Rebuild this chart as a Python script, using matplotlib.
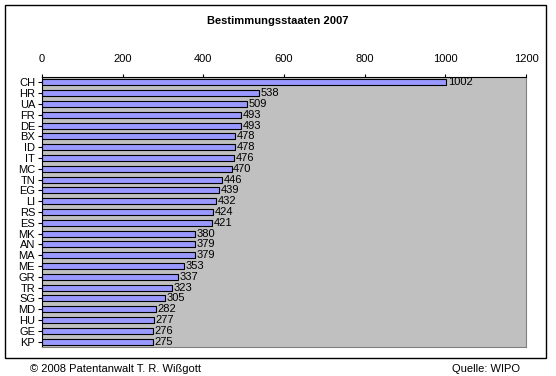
import matplotlib
matplotlib.use("Agg")
import matplotlib.pyplot as plt
from matplotlib.patches import Rectangle

plt.rcParams["font.family"] = ["Liberation Sans", "DejaVu Sans"]

# ---------------------------------------------------------------- data
countries = ["CH", "HR", "UA", "FR", "DE", "BX", "ID", "IT", "MC", "TN", "EG", "LI",
             "RS", "ES", "MK", "AN", "MA", "ME", "GR", "TR", "SG", "MD", "HU", "GE", "KP"]
counts = [1002, 538, 509, 493, 493, 478, 478, 476, 470, 446, 439, 432,
          424, 421, 380, 379, 379, 353, 337, 323, 305, 282, 277, 276, 275]
xticks = [0, 200, 400, 600, 800, 1000, 1200]

# ---------------------------------------------------------------- plot
fig = plt.figure(figsize=(5.56, 3.76), dpi=100)
fig.patch.set_facecolor("white")
fig.patches.append(Rectangle((5 / 556, 1 - 358 / 376), 541 / 556, 353 / 376,
                             transform=fig.transFigure, fill=False,
                             edgecolor="black", linewidth=1.0))

ax = fig.add_axes([42 / 556, 1 - 347 / 376, 484 / 556, 270 / 376])
ax.set_facecolor("#C0C0C0")

ypos = range(len(countries))
ax.barh(ypos, counts, height=0.55, color="#9999FF", edgecolor="black", linewidth=0.8)
for y, v in zip(ypos, counts):
    ax.text(v + 4, y, str(v), va="center", ha="left", fontsize=8)

ax.set_xlim(0, 1200)
ax.set_ylim(len(countries) - 0.5, -0.5)
ax.set_xticks(xticks)
ax.set_yticks(list(ypos))
ax.set_yticklabels(countries)
ax.xaxis.tick_top()
ax.tick_params(axis="x", direction="out", length=2.5, labelsize=8, pad=6.5, width=0.8)
ax.tick_params(axis="y", direction="out", length=3, labelsize=8, pad=2, width=0.8)

for side in ["top", "left"]:
    ax.spines[side].set_color("black")
    ax.spines[side].set_linewidth(0.8)
for side in ["bottom", "right"]:
    ax.spines[side].set_color("#808080")
    ax.spines[side].set_linewidth(0.8)

fig.text(0.5, 1 - 21 / 376, "Bestimmungsstaaten 2007", ha="center", va="center",
         fontsize=8, fontweight="bold")
fig.text(30 / 556, 1 - 369 / 376, "\u00a9 2008 Patentanwalt T. R. Wi\u00dfgott",
         ha="left", va="center", fontsize=8)
fig.text(520 / 556, 1 - 369 / 376, "Quelle: WIPO", ha="right", va="center", fontsize=8)

fig.savefig("out.png", dpi=100)
